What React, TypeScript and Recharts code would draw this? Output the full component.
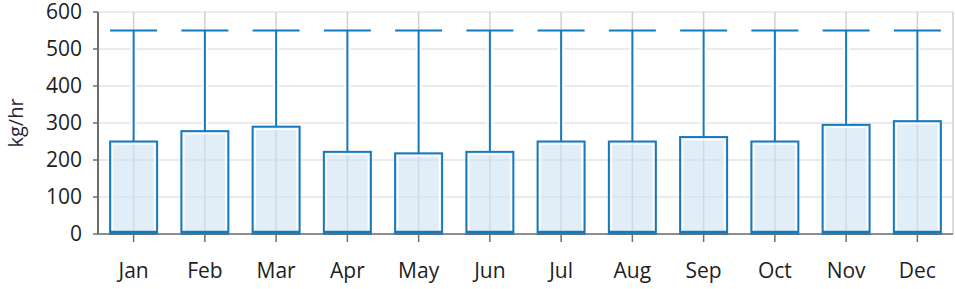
import { ComposedChart, Bar, XAxis, YAxis, CartesianGrid } from 'recharts';

const months = ['Jan', 'Feb', 'Mar', 'Apr', 'May', 'Jun', 'Jul', 'Aug', 'Sep', 'Oct', 'Nov', 'Dec'];
const lowValues = [0, 0, 0, 0, 0, 0, 0, 0, 0, 0, 0, 0];
const medianValues = [5, 5, 5, 5, 5, 5, 5, 5, 5, 5, 5, 5];
const upperQuartile = [250, 278, 290, 222, 218, 222, 250, 250, 262, 250, 295, 305];
const maxValues = [550, 550, 550, 550, 550, 550, 550, 550, 550, 550, 550, 550];
const yTicks = [0, 100, 200, 300, 400, 500, 600];

const data = months.map((m, i) => ({
  name: m,
  low: lowValues[i],
  median: medianValues[i],
  q3: upperQuartile[i],
  max: maxValues[i],
}));

const BLUE = '#1579be';

// whole box-and-whisker drawn from the bar's own rect (low..q3)
function BoxShape(props: any) {
  const { x, y, width, height, payload } = props;
  if (!payload || !payload.q3) return null;
  const bottom = y + height;
  const perUnit = height / (payload.q3 - payload.low);
  const topY = bottom - (payload.max - payload.low) * perUnit;
  const medY = bottom - (payload.median - payload.low) * perUnit;
  const cx = x + width / 2;
  return (
    <g>
      <line x1={cx} x2={cx} y1={topY} y2={y} stroke="#fff" strokeWidth={6} />
      <line x1={cx} x2={cx} y1={topY} y2={y} stroke={BLUE} strokeWidth={2} />
      <line x1={x} x2={x + width} y1={topY} y2={topY} stroke={BLUE} strokeWidth={2} />
      <rect x={x} y={y} width={width} height={height} fill="#cfe3f1" fillOpacity={0.6} stroke="none" />
      <rect x={x + 2.5} y={y + 2.5} width={width - 5} height={height - 5} fill="none" stroke="#fff" strokeWidth={1.5} />
      <rect x={x} y={y} width={width} height={height} fill="none" stroke={BLUE} strokeWidth={2} />
      <line x1={x} x2={x + width} y1={medY} y2={medY} stroke={BLUE} strokeWidth={3} />
    </g>
  );
}

export default function App() {
  return (
    <div style={{ position: 'absolute', left: 0, top: 0, background: '#fff' }}>
      <ComposedChart
        width={955}
        height={289}
        data={data}
        margin={{ top: 12, right: 2, bottom: 5, left: 0 }}
        barCategoryGap="17%"
      >
        <CartesianGrid horizontal={true} vertical={false} stroke="#e4e4e4" strokeWidth={1.5} />
        <XAxis
          dataKey="name"
          height={50}
          axisLine={{ stroke: '#6e6e6e', strokeWidth: 1.5 }}
          tickLine={{ stroke: '#6e6e6e', strokeWidth: 1.5 }}
          tickSize={8}
          tick={{ fill: '#1e1e1e', fontSize: 21, fontFamily: 'Open Sans' }}
          dy={19}
        />
        <YAxis
          width={98}
          domain={[0, 600]}
          ticks={yTicks}
          interval={0}
          axisLine={{ stroke: '#6e6e6e', strokeWidth: 2 }}
          tickLine={{ stroke: '#6e6e6e', strokeWidth: 1.5 }}
          tickSize={5}
          tickMargin={11}
          tick={{ fill: '#1e1e1e', fontSize: 21, fontFamily: 'Open Sans' }}
          label={{
            value: 'kg/hr',
            angle: -90,
            position: 'insideLeft',
            offset: 16,
            style: { fill: '#2a1f3a', fontSize: 20, fontFamily: 'Open Sans', textAnchor: 'middle' },
          }}
        />
        <Bar
          dataKey={(d: any) => [d.low, d.q3]}
          shape={BoxShape}
          isAnimationActive={false}
        />
        <CartesianGrid horizontal={false} vertical={true} stroke="#cfcfcf" strokeWidth={1.5} fill="none" />
      </ComposedChart>
    </div>
  );
}
